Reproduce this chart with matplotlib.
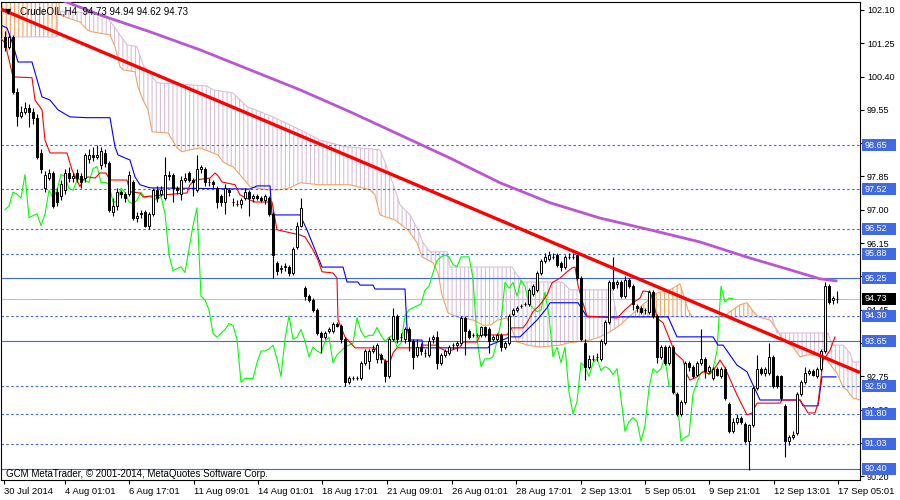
import numpy as np
import matplotlib
matplotlib.use("Agg")
import matplotlib.pyplot as plt
from matplotlib.patches import Rectangle
from matplotlib.transforms import blended_transform_factory

# H4 candles, bar index 0..208 (30 Jul - 17 Sep 2014)
opens = [
    101.40, 101.15, 101.40, 100.00, 99.40, 99.50, 99.60, 99.50, 99.35, 98.45,
    97.55, 97.80, 97.95, 97.45, 97.35, 97.50, 97.95, 97.80, 97.95, 97.85,
    97.80, 98.30, 98.40, 98.35, 98.15, 98.45, 98.20, 96.95, 97.10, 97.45,
    97.40, 97.40, 97.70, 96.80, 96.90, 96.95, 96.60, 96.90, 97.50, 97.40,
    97.30, 97.90, 97.90, 97.55, 97.40, 97.75, 97.95, 97.75, 97.50, 98.05,
    98.05, 97.70, 97.70, 97.55, 97.35, 97.20, 97.50, 97.20, 97.15, 97.15,
    97.30, 97.45, 97.30, 97.35, 97.30, 97.25, 97.30, 96.90, 95.65, 95.50,
    95.55, 95.55, 95.40, 96.05, 96.60, 95.00, 94.80, 94.70, 94.45, 93.85,
    93.75, 93.90, 93.90, 94.10, 94.05, 93.70, 92.60, 92.70, 92.70, 92.70,
    93.10, 93.15, 93.40, 93.20, 93.30, 93.15, 92.75, 93.70, 94.30, 93.75,
    93.70, 93.95, 93.65, 93.30, 93.50, 93.35, 93.30, 93.70, 93.75, 93.10,
    93.30, 93.35, 93.55, 93.55, 93.60, 94.25, 93.90, 93.80, 93.80, 93.80,
    94.00, 93.95, 93.70, 93.70, 93.80, 93.50, 93.60, 94.35, 94.45, 94.55,
    94.60, 94.60, 94.85, 94.95, 95.40, 95.70, 95.75, 95.80, 95.85, 95.65,
    95.55, 95.80, 95.80, 95.85, 95.25, 93.60, 93.00, 93.20, 93.25, 93.20,
    93.60, 94.15, 95.15, 95.10, 95.15, 94.80, 95.20, 95.05, 94.55, 94.50,
    94.45, 94.40, 94.90, 94.30, 93.25, 93.50, 93.10, 93.50, 92.30, 91.80,
    92.10, 93.10, 93.00, 92.80, 93.10, 93.20, 92.90, 92.70, 92.95, 92.75,
    92.95, 92.05, 91.35, 91.60, 91.70, 91.55, 91.10, 91.50, 92.45, 92.95,
    92.85, 92.85, 93.25, 92.75, 92.75, 92.00, 91.10, 91.20, 91.30, 92.30,
    92.60, 92.85, 92.90, 92.75, 92.95, 93.40, 95.05, 94.70, 94.73,
]
highs = [
    101.55, 101.50, 101.45, 100.10, 99.65, 99.75, 99.70, 99.60, 99.45, 98.55,
    98.00, 98.05, 98.00, 97.55, 97.75, 98.05, 98.10, 97.95, 98.05, 97.95,
    98.45, 98.55, 98.60, 98.65, 98.60, 98.55, 98.25, 97.30, 97.55, 97.50,
    97.45, 98.00, 97.75, 96.95, 97.00, 97.00, 96.95, 97.55, 97.60, 97.60,
    98.35, 98.00, 97.95, 97.60, 97.85, 97.95, 98.00, 97.80, 98.40, 98.15,
    98.10, 97.80, 97.75, 97.60, 97.40, 97.65, 97.55, 97.30, 97.25, 97.30,
    97.55, 97.50, 97.40, 97.40, 97.35, 97.40, 97.35, 96.95, 95.70, 95.60,
    95.65, 95.60, 96.05, 96.70, 97.30, 95.05, 94.85, 94.75, 94.50, 93.90,
    93.90, 94.00, 94.15, 94.15, 94.10, 93.75, 92.75, 92.75, 92.75, 93.15,
    93.45, 93.45, 93.55, 93.60, 93.35, 93.20, 93.75, 94.50, 94.35, 93.85,
    94.00, 94.00, 93.70, 93.70, 93.60, 93.45, 93.75, 93.80, 93.90, 93.35,
    93.45, 93.55, 93.60, 93.65, 94.30, 94.30, 93.95, 93.85, 93.85, 94.05,
    94.05, 94.00, 93.80, 93.85, 93.85, 93.65, 94.35, 94.50, 94.55, 94.60,
    94.65, 95.00, 95.10, 95.45, 95.75, 95.90, 95.95, 95.90, 95.90, 95.70,
    95.85, 95.90, 95.90, 95.90, 95.30, 93.70, 93.30, 93.30, 93.35, 93.70,
    94.20, 95.20, 95.80, 95.20, 95.20, 95.30, 95.25, 95.10, 94.60, 94.55,
    94.50, 94.95, 94.95, 94.35, 93.55, 93.55, 93.55, 93.55, 92.35, 92.15,
    93.15, 93.15, 93.05, 93.15, 93.95, 93.25, 93.05, 93.00, 93.00, 93.00,
    93.00, 92.10, 91.70, 91.80, 91.75, 91.60, 91.55, 92.50, 93.30, 93.00,
    93.00, 93.60, 93.30, 92.80, 92.80, 92.05, 91.25, 91.35, 92.35, 92.65,
    93.00, 92.95, 92.95, 93.00, 93.45, 95.15, 95.10, 94.80, 94.94,
]
lows = [
    101.05, 101.10, 99.95, 99.15, 99.35, 99.45, 99.10, 99.20, 98.30, 97.95,
    97.45, 97.75, 97.05, 97.10, 97.25, 97.40, 97.70, 97.70, 97.70, 97.55,
    97.70, 98.20, 98.25, 98.30, 98.05, 98.10, 96.95, 96.85, 97.00, 97.30,
    97.20, 97.35, 96.75, 96.70, 96.80, 96.55, 96.50, 96.85, 97.20, 97.35,
    97.25, 97.75, 97.20, 97.40, 97.25, 97.70, 97.70, 97.35, 97.45, 97.95,
    97.60, 97.60, 97.55, 97.05, 97.10, 96.90, 97.35, 97.10, 97.10, 97.05,
    97.25, 96.85, 97.20, 97.25, 97.20, 97.15, 96.85, 95.25, 95.35, 95.40,
    95.45, 95.30, 95.35, 96.00, 96.55, 94.70, 94.65, 94.40, 93.80, 93.35,
    93.70, 93.85, 93.85, 94.00, 93.60, 92.50, 92.55, 92.65, 92.65, 92.65,
    93.05, 92.95, 93.35, 93.10, 93.10, 92.60, 92.70, 93.65, 93.60, 93.65,
    93.60, 93.40, 92.95, 93.25, 93.30, 93.25, 93.25, 93.60, 92.95, 93.05,
    93.25, 93.30, 93.45, 93.40, 93.55, 93.30, 93.70, 93.75, 93.75, 93.75,
    93.75, 93.35, 93.65, 93.65, 93.40, 93.45, 93.55, 94.30, 94.40, 94.50,
    94.55, 94.55, 94.80, 94.90, 95.35, 95.65, 95.70, 95.75, 95.55, 95.45,
    95.50, 95.75, 95.75, 95.20, 93.65, 92.65, 92.95, 93.15, 93.15, 93.15,
    93.55, 94.10, 94.95, 95.00, 94.75, 94.75, 95.00, 94.45, 94.40, 94.35,
    94.35, 94.35, 94.25, 93.10, 93.20, 93.05, 93.05, 92.30, 91.75, 91.75,
    92.05, 92.90, 92.70, 92.75, 93.05, 92.70, 92.85, 92.65, 92.75, 92.70,
    92.15, 91.30, 91.30, 91.55, 91.55, 91.05, 90.37, 91.45, 92.40, 92.80,
    92.75, 92.80, 92.45, 92.45, 92.15, 90.70, 91.00, 91.15, 91.25, 92.25,
    92.55, 92.80, 92.75, 92.70, 92.90, 93.35, 94.60, 94.60, 94.62,
]
closes = [
    101.15, 101.40, 100.00, 99.40, 99.50, 99.60, 99.50, 99.35, 98.35, 98.05,
    97.90, 97.95, 97.10, 97.20, 97.65, 97.95, 97.80, 97.85, 97.80, 97.70,
    98.40, 98.40, 98.35, 98.40, 98.50, 98.20, 97.00, 97.10, 97.45, 97.40,
    97.30, 97.90, 96.80, 96.85, 96.90, 96.60, 96.90, 97.50, 97.30, 97.50,
    97.90, 97.85, 97.55, 97.50, 97.75, 97.80, 97.75, 97.70, 98.05, 98.10,
    97.70, 97.70, 97.65, 97.20, 97.20, 97.55, 97.45, 97.20, 97.15, 97.25,
    97.45, 97.30, 97.35, 97.30, 97.25, 97.35, 96.90, 95.85, 95.45, 95.50,
    95.55, 95.40, 96.00, 96.60, 97.05, 94.80, 94.70, 94.45, 93.85, 93.75,
    93.85, 93.95, 94.10, 94.05, 93.70, 92.60, 92.70, 92.70, 92.70, 93.10,
    93.40, 93.40, 93.45, 93.55, 93.20, 92.75, 93.70, 94.30, 93.70, 93.75,
    93.95, 93.65, 93.25, 93.50, 93.40, 93.35, 93.65, 93.75, 93.10, 93.30,
    93.40, 93.50, 93.55, 93.60, 94.25, 93.90, 93.75, 93.80, 93.80, 94.00,
    93.80, 93.65, 93.75, 93.80, 93.50, 93.60, 94.30, 94.45, 94.50, 94.55,
    94.60, 94.95, 95.05, 95.40, 95.70, 95.80, 95.85, 95.80, 95.60, 95.55,
    95.80, 95.80, 95.80, 95.25, 93.70, 93.00, 93.20, 93.20, 93.25, 93.65,
    94.15, 95.15, 95.00, 95.15, 94.80, 95.20, 95.05, 94.60, 94.50, 94.40,
    94.45, 94.90, 94.30, 93.25, 93.50, 93.10, 93.50, 92.35, 91.80, 92.10,
    93.10, 93.00, 92.75, 93.10, 93.20, 92.90, 93.00, 92.95, 92.80, 92.95,
    92.20, 91.35, 91.60, 91.70, 91.60, 91.10, 91.50, 92.45, 92.95, 92.85,
    92.95, 93.25, 92.50, 92.50, 92.20, 91.10, 91.20, 91.25, 92.30, 92.60,
    92.85, 92.90, 92.80, 92.95, 93.40, 95.05, 94.65, 94.75, 94.73,
]

# Ichimoku lines (bar index, price)
tenkan_idx = [-1.25, 0, 2, 6.75, 7.5, 9.25, 10, 11.25, 15.5, 16.75,
              18.75, 19.5, 20.75, 22.5, 23.75, 25.25, 26.25, 30.5, 31.25, 33.75,
              34.5, 39.5, 45.5, 46.25, 47.5, 51.25, 52.5, 53.25, 54.25, 57.5,
              58.75, 61.25, 62.5, 66.75, 68, 73.75, 75, 77, 78.25, 79.25,
              82, 83, 83.25, 85, 87.5, 92.5, 93.25, 95, 96.25, 97,
              98, 103.75, 104.5, 108, 108.75, 110.5, 113.75, 114.5, 118, 118.75,
              125.5, 126.75, 129.5, 130.5, 132, 133.75, 135.5, 136.75, 138.75, 140.5,
              141.75, 142.5, 143.25, 144.25, 145.5, 153, 155, 157, 158.75, 159.5,
              161.25, 162, 163, 164.5, 166.25, 167.5, 169.5, 170.5, 171.25, 173,
              174.5, 176.25, 178, 178.75, 180, 183, 185.5, 186.75, 188, 193.75,
              194.25, 198.75, 200, 200.75, 202.5, 203.25, 203.75, 204.5, 205.5, 206.25,
              207.5]
tenkan_val = [101.39, 101.26, 100.39, 100.37, 99.80, 99.55, 98.78, 98.45, 98.45, 98.02,
              97.59, 97.76, 97.84, 97.81, 97.94, 97.94, 97.76, 97.76, 97.46, 97.43,
              97.33, 97.38, 97.43, 97.64, 97.76, 97.81, 97.94, 97.87, 97.71, 97.64,
              97.38, 97.25, 97.20, 97.20, 96.49, 96.36, 96.31, 95.98, 95.72, 95.42,
              95.39, 95.26, 94.19, 93.76, 93.48, 93.48, 93.35, 93.15, 93.12, 93.35,
              93.48, 93.48, 93.55, 93.55, 93.48, 93.38, 93.50, 93.63, 93.63, 93.81,
              93.81, 93.99, 93.99, 94.12, 94.40, 94.58, 94.83, 95.14, 95.26, 95.42,
              95.52, 95.54, 95.08, 94.70, 94.29, 94.24, 94.45, 94.63, 94.75, 94.93,
              94.91, 94.70, 94.24, 94.12, 93.68, 93.35, 93.17, 92.79, 92.66, 92.74,
              92.87, 92.81, 93.04, 93.17, 92.97, 92.28, 91.77, 91.82, 92.07, 92.07,
              92.15, 92.15, 91.95, 91.82, 91.82, 92.07, 92.48, 93.17, 93.30, 93.42,
              93.76]

kijun_idx = [-1.25, 0.5, 2, 3.25, 6.75, 9.25, 11.25, 13.25, 16.25, 20.5,
             26.25, 27.5, 28.25, 31.25, 32.5, 33.75, 36.25, 61.25, 63, 66.25,
             66.75, 73.75, 75.5, 79.25, 84.5, 85.5, 88.25, 88.75, 92, 92.5,
             100, 100.5, 101.25, 104.25, 104.5, 120.75, 121.25, 126.25, 128.75, 133,
             135.5, 136.25, 143.25, 145.5, 165.75, 168, 177, 178.25, 179.5, 183,
             185.5, 186.75, 188.75, 198.75, 199.5, 203.25, 204.25, 207.75]
kijun_val = [101.72, 101.64, 101.21, 100.77, 100.77, 99.88, 99.80, 99.55, 99.37, 99.35,
             99.35, 98.61, 98.40, 98.27, 97.84, 97.64, 97.56, 97.53, 97.61, 97.61,
             96.87, 96.87, 96.49, 95.54, 95.54, 95.16, 95.16, 95.08, 95.08, 94.98,
             94.98, 93.99, 93.68, 93.68, 93.48, 93.48, 93.55, 93.76, 93.76, 94.19,
             94.50, 94.63, 94.63, 94.27, 94.27, 93.76, 93.76, 93.55, 93.55, 93.04,
             92.87, 92.59, 92.15, 92.15, 92.00, 92.00, 92.74, 92.74]

spanA_idx = [-1.25, 13, 13.75, 15.5, 18.75, 20.5, 21.75, 26.25, 27.5, 28.75,
             29.5, 32.5, 33.25, 34.5, 35.75, 36.75, 40.75, 43, 44.25, 46.25,
             48.75, 51.25, 53.25, 54.5, 55.75, 57, 58.75, 61.25, 65.5, 68.75,
             71.25, 73.75, 78.75, 86.25, 91.25, 92.5, 93.75, 97.5, 100.75, 103,
             104.25, 107, 108.25, 109.25, 110.75, 113, 117, 119.5, 121.25, 123.25,
             125.5, 126.75, 128, 130.75, 133.75, 138.75, 140.5, 146.25, 148.75, 151.25,
             153.75, 158.75, 163, 166.25, 168.75, 170.75, 171.75, 179.5, 181.25, 183.75,
             185.5, 186.75, 188.25, 191.25, 193, 194.5, 197, 198.75, 200.5, 203,
             205.5, 206.75, 208, 208.75, 209.5, 210.5, 212, 213.75]
spanA_val = [102.87, 102.87, 101.97, 101.90, 101.79, 101.59, 101.54, 101.46, 101.16, 100.65,
             100.57, 100.52, 100.13, 99.80, 99.55, 98.99, 98.96, 98.58, 98.48, 98.53,
             98.58, 98.48, 98.40, 98.22, 98.15, 98.10, 97.89, 97.59, 97.51, 97.51,
             97.56, 97.69, 97.64, 97.64, 97.51, 97.38, 96.87, 96.74, 96.49, 96.16,
             95.80, 95.65, 95.39, 94.83, 94.37, 94.27, 94.19, 94.06, 94.06, 94.19,
             94.24, 93.94, 93.63, 93.55, 93.50, 93.55, 93.60, 93.68, 93.76, 93.89,
             94.06, 94.52, 94.88, 94.96, 95.11, 94.45, 94.27, 94.27, 94.40, 94.58,
             94.63, 94.45, 94.27, 94.19, 93.94, 93.68, 93.50, 93.25, 93.30, 93.30,
             93.17, 92.99, 92.84, 92.66, 92.48, 92.40, 92.20, 92.15]

spanB_idx = [-1.25, 13, 13.25, 18, 23.75, 25.5, 27.5, 28.75, 30.5, 33,
             34.5, 38, 50.5, 52, 57, 60.5, 67, 73.75, 78.75, 85,
             93.75, 96.25, 98.75, 101.25, 103.25, 104.5, 106.25, 110.5, 111.25, 126.75,
             128, 129.25, 138.75, 139.5, 141.25, 151.75, 153, 191.75, 193, 205.75,
             206.75, 209.5, 211.25, 212, 213.75]
spanB_val = [101.41, 101.41, 102.05, 102.05, 101.97, 101.92, 101.64, 101.46, 101.21, 101.16,
             100.70, 100.24, 100.16, 100.06, 99.98, 99.63, 99.37, 99.04, 98.78, 98.61,
             98.53, 97.89, 97.13, 96.87, 96.49, 96.16, 95.93, 95.93, 95.54, 95.54,
             95.34, 95.16, 95.16, 95.14, 94.96, 94.96, 94.27, 94.27, 93.86, 93.86,
             93.55, 93.55, 93.35, 93.12, 93.12]

ma_idx = [10, 23.75, 36.25, 48.75, 61.25, 73.75, 86.25, 98.75, 111.25, 123.75,
          136.25, 148.75, 161.25, 173.75, 186.25, 196.25, 203.75, 207.75]
ma_val = [102.51, 101.97, 101.54, 101.08, 100.57, 100.06, 99.50, 98.91, 98.32, 97.69,
          97.18, 96.79, 96.49, 96.18, 95.77, 95.47, 95.24, 95.19]

trend_idx = [-1.25, 213.75]
trend_val = [102.13, 92.85]

dashed_levels = [98.65, 97.52, 96.52, 95.88, 94.30, 92.50, 91.80, 91.03]
solid_levels = [95.25, 93.65, 90.40]
last_price = 94.73
chikou_shift = 26

# scale labels that sit completely under a price box in the reference
hidden_ticks = [98.70, 95.30, 93.60, 91.05]

date_pos = [-0.25, 15, 31, 47.25, 63.25, 79.25, 95.5, 111.75, 127.75, 144, 160, 176, 192.25, 208.25]
date_labels = ["30 Jul 2014", "4 Aug 01:01", "6 Aug 17:01", "11 Aug 09:01", "14 Aug 01:01",
               "18 Aug 17:01", "21 Aug 09:01", "26 Aug 01:01", "28 Aug 17:01", "2 Sep 13:01",
               "5 Sep 05:01", "9 Sep 21:01", "12 Sep 13:01", "17 Sep 05:01"]

plt.rcParams["font.family"] = ["Liberation Sans", "DejaVu Sans"]
plt.rcParams["hatch.linewidth"] = 0.8

opens = np.array(opens)
highs = np.array(highs)
lows = np.array(lows)
closes = np.array(closes)
idx = np.arange(len(closes))

fig = plt.figure(figsize=(9, 5), dpi=100)
ax = fig.add_axes([1 / 900, 20 / 500, 859 / 900, 478 / 500])

# kumo
grid = np.union1d(spanA_idx, spanB_idx)
a = np.interp(grid, spanA_idx, spanA_val)
b = np.interp(grid, spanB_idx, spanB_val)
ax.fill_between(grid, a, b, where=a >= b, interpolate=True, facecolor="none",
                edgecolor="#F4A460", hatch="||||", linewidth=0, zorder=1)
ax.fill_between(grid, a, b, where=a < b, interpolate=True, facecolor="none",
                edgecolor="#D8BFD8", hatch="||||", linewidth=0, zorder=1)
ax.plot(spanA_idx, spanA_val, color="#F4A460", lw=0.8, zorder=2)
ax.plot(spanB_idx, spanB_val, color="#D8BFD8", lw=0.8, zorder=2)

# levels
for lvl in dashed_levels:
    ax.axhline(lvl, color="#4169E1", lw=0.8, ls=(0, (2.2, 2.2)), zorder=2)
for lvl in solid_levels:
    ax.axhline(lvl, color="#4169E1", lw=0.8, zorder=2)
ax.axhline(last_price, color="#C0C0C0", lw=0.8, zorder=2)

# indicator lines
ax.plot(ma_idx, ma_val, color="#BA55D3", lw=2.0, zorder=3)
ax.plot(idx[chikou_shift:] - chikou_shift, closes[chikou_shift:], color="#00FF00", lw=0.8, zorder=3)
ax.plot(kijun_idx, kijun_val, color="#0000FF", lw=0.8, zorder=3)
ax.plot(tenkan_idx, tenkan_val, color="#FF0000", lw=0.8, zorder=3)

# candles
up = closes >= opens
ax.vlines(idx, lows, highs, color="black", lw=0.8, zorder=4)
body = np.maximum(np.abs(closes - opens), 0.008)
ax.bar(idx, body, bottom=np.minimum(opens, closes), width=0.55,
       color=np.where(up, "white", "black"), edgecolor="black", linewidth=0.7, zorder=5)

# trend line
ax.plot(trend_idx, trend_val, color="#FF0000", lw=2.4, zorder=6, solid_capstyle="butt")

ax.set_xlim(-1.0, 213.75)
ax.set_ylim(90.11, 102.30)

for s in ax.spines.values():
    s.set_color("black")
    s.set_linewidth(0.8)

yt = np.round(90.20 + 0.85 * np.arange(15), 2)
ax.yaxis.tick_right()
ax.set_yticks(yt)
ax.set_yticklabels(["" if any(abs(v - h) < 0.001 for h in hidden_ticks) else f"{v:.2f}" for v in yt])
ax.tick_params(axis="y", direction="out", length=3, width=0.8, labelsize=6.5, pad=2, colors="black")
ax.set_xticks(date_pos)
ax.set_xticklabels(date_labels, ha="left")
ax.tick_params(axis="x", direction="out", length=3, width=0.8, labelsize=6.8, pad=2, colors="black")

# price boxes on the right scale
trans = blended_transform_factory(ax.transAxes, ax.transData)
box_w = 34 / 859
box_h = 12 / 39.2
for lvl in dashed_levels + solid_levels + [last_price]:
    fc = "black" if lvl == last_price else "#4169E1"
    ax.add_patch(Rectangle((1 + 2 / 859, lvl - box_h / 2), box_w, box_h, transform=trans,
                           facecolor=fc, edgecolor="none", clip_on=False, zorder=10))
    ax.text(1 + 5 / 859, lvl, f"{lvl:.2f}", transform=trans, color="white", fontsize=6.5,
            va="center", ha="left", clip_on=False, zorder=11)

ax.text(0.008, 0.981, "\u25BC", transform=ax.transAxes, fontsize=6, va="center", ha="center",
        family=["DejaVu Sans"], zorder=12)
ax.text(0.022, 0.981, "CrudeOIL,H4  94.73 94.94 94.62 94.73", transform=ax.transAxes,
        fontsize=7, va="center", ha="left", zorder=12)
ax.text(0.006, 0.0126, "GCM MetaTrader, \u00A9 2001-2014, MetaQuotes Software Corp.",
        transform=ax.transAxes, fontsize=7, va="center", ha="left", zorder=12)

fig.savefig("out.png", dpi=100)
plt.close(fig)
